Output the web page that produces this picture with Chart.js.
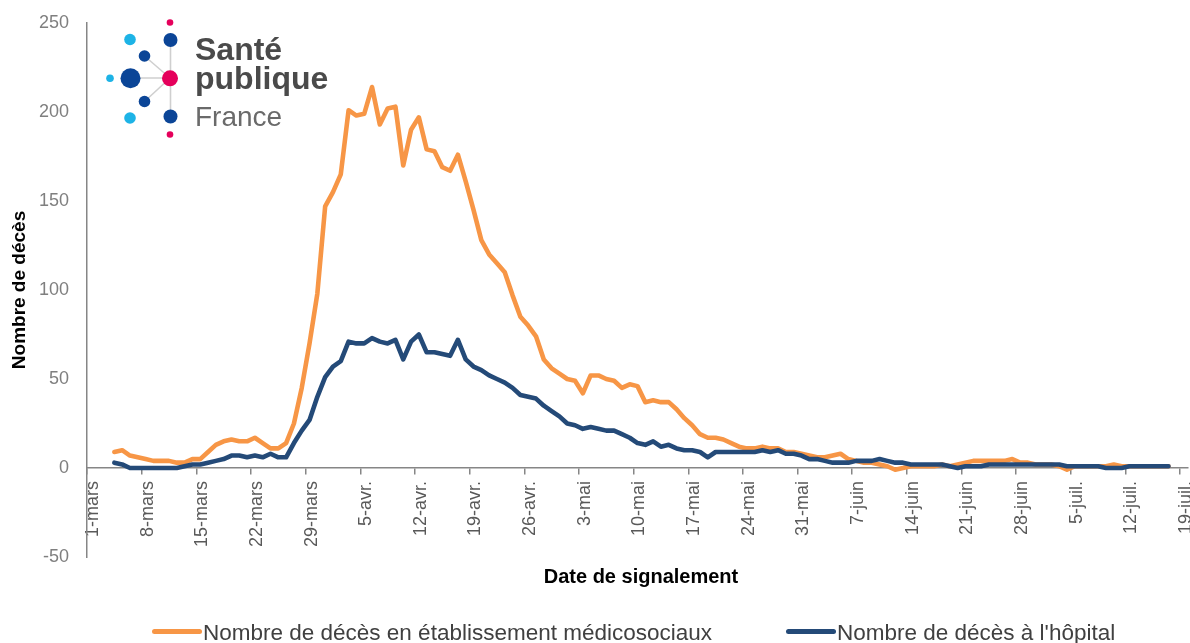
<!DOCTYPE html>
<html><head><meta charset="utf-8">
<script src="https://cdn.jsdelivr.net/npm/chart.js@4.4.1/dist/chart.umd.min.js"></script>
<style>
html,body{margin:0;padding:0;background:#fff;}
#wrap{position:relative;width:1190px;height:643px;overflow:hidden;background:#fff;}
#c{position:absolute;left:0;top:0;}
#logo{position:absolute;left:0;top:0;}
#xtitle{position:absolute;left:441px;width:400px;top:564px;height:24px;line-height:24px;text-align:center;font-family:'Liberation Sans',Arial,sans-serif;font-weight:bold;font-size:20px;color:#000;}
.lg{position:absolute;top:620px;height:26px;line-height:26px;font-family:'Liberation Sans',Arial,sans-serif;font-size:22.5px;color:#404040;white-space:nowrap;}
.lg i{position:absolute;left:0;top:9px;width:50px;height:5px;border-radius:2.5px;}
.lg span{position:absolute;left:51px;top:0;}
</style></head>
<body>
<div id="wrap">
<canvas id="c" width="1190" height="643"></canvas>
<svg id="logo" width="360" height="150" viewBox="0 0 360 150">
  <g stroke="#cfcfcf" stroke-width="1.6">
    <line x1="170.5" y1="40" x2="170.5" y2="117"/>
    <line x1="170" y1="78" x2="131" y2="78"/>
    <line x1="170" y1="78" x2="144.5" y2="56"/>
    <line x1="170" y1="78" x2="144.5" y2="101.5"/>
  </g>
  <circle cx="170" cy="22.5" r="3.3" fill="#e5005b"/>
  <circle cx="170.5" cy="40" r="7" fill="#0b4597"/>
  <circle cx="130" cy="39.5" r="5.8" fill="#1db3e6"/>
  <circle cx="144.5" cy="56" r="5.8" fill="#0b4597"/>
  <circle cx="110" cy="78.3" r="3.8" fill="#1db3e6"/>
  <circle cx="130.5" cy="78.3" r="10" fill="#0b4597"/>
  <circle cx="170" cy="78.3" r="8" fill="#e5005b"/>
  <circle cx="144.5" cy="101.5" r="5.8" fill="#0b4597"/>
  <circle cx="130" cy="118" r="5.8" fill="#1db3e6"/>
  <circle cx="170.5" cy="116.5" r="7" fill="#0b4597"/>
  <circle cx="170" cy="134.5" r="3.3" fill="#e5005b"/>
  <text x="195" y="59.5" font-family="'Liberation Sans',Arial,sans-serif" font-weight="bold" font-size="32" fill="#4a4a4a">Santé</text>
  <text x="195" y="88.5" font-family="'Liberation Sans',Arial,sans-serif" font-weight="bold" font-size="32" fill="#4a4a4a">publique</text>
  <text x="195" y="125.5" font-family="'Liberation Sans',Arial,sans-serif" font-size="28" fill="#6a6a6a">France</text>
</svg>
<div id="xtitle"></div>
<div id="legend"></div>
</div>
<script>
// Categories: every day from 1 March to 19 July (2020)
const months = [['mars', 31], ['avr.', 30], ['mai', 31], ['juin', 30], ['juil.', 19]];
const days = [];
months.forEach(([name, n]) => { for (let d = 1; d <= n; d++) days.push(d + '-' + name); });

// Nombre de décès en établissement médicosociaux (1-mars .. 19-juil.)
const ehpad = [
  null, null, null,
  9, 10, 7, 6, 5, 4, 4, 4, 3, 3,
  5, 5, 9, 13, 15, 16, 15, 15, 17, 14,
  11, 11, 14, 25, 45, 70, 98, 147, 155, 165,
  201, 198, 199, 214, 193, 202, 203, 170, 190, 197,
  179, 178, 169, 167, 176, 161, 145, 128, 120, 115,
  110, 97, 85, 80, 74, 61, 56, 53, 50, 49,
  42, 52, 52, 50, 49, 45, 47, 46, 37, 38,
  37, 37, 33, 28, 24, 19, 17, 17, 16, 14,
  12, 11, 11, 12, 11, 11, 9, 9, 8, 7,
  6, 6, 7, 8, 5, 4, 3, 3, 2, 1,
  -1, 0, 1, 1, 1, 1, 2, 1, 2, 3,
  4, 4, 4, 4, 4, 5, 3, 3, 2, 2,
  2, 1, -1, 1, 1, 1, 1, 1, 2, 1,
  1, 1, 1, 1, 1, 1,
  null, null
];

// Nombre de décès à l'hôpital (1-mars .. 19-juil.)
const hopital = [
  null, null, null,
  3, 2, 0, 0, 0, 0, 0, 0, 0, 1,
  2, 2, 3, 4, 5, 7, 7, 6, 7, 6,
  8, 6, 6, 14, 21, 27, 40, 51, 57, 60,
  71, 70, 70, 73, 71, 70, 72, 61, 71, 75,
  65, 65, 64, 63, 72, 61, 57, 55, 52, 50,
  48, 45, 41, 40, 39, 35, 32, 29, 25, 24,
  22, 23, 22, 21, 21, 19, 17, 14, 13, 15,
  12, 13, 11, 10, 10, 9, 6, 9, 9, 9,
  9, 9, 9, 10, 9, 10, 8, 8, 7, 5,
  5, 4, 3, 3, 3, 4, 4, 4, 5, 4,
  3, 3, 2, 2, 2, 2, 2, 1, 0, 1,
  1, 1, 2, 2, 2, 2, 2, 2, 2, 2,
  2, 2, 1, 1, 1, 1, 1, 0, 0, 0,
  1, 1, 1, 1, 1, 1,
  null, null
];

const seriesNames = ['Nombre de décès en établissement médicosociaux', "Nombre de décès à l'hôpital"];
const seriesColors = ['#F79646', '#244A78'];
const xTitle = 'Date de signalement';
const yTitle = 'Nombre de décès';
const yTicks = { min: -50, max: 250, step: 50 };
const tickEvery = 7;

const FONT = "'Liberation Sans', Arial, sans-serif";
Chart.defaults.font.family = FONT;

const chart = new Chart(document.getElementById('c'), {
  type: 'line',
  data: {
    labels: days,
    datasets: [
      { label: seriesNames[0], data: ehpad, borderColor: seriesColors[0], backgroundColor: seriesColors[0],
        borderWidth: 4.6, pointRadius: 0, tension: 0, borderJoinStyle: 'round', borderCapStyle: 'round', order: 2 },
      { label: seriesNames[1], data: hopital, borderColor: seriesColors[1], backgroundColor: seriesColors[1],
        borderWidth: 4.6, pointRadius: 0, tension: 0, borderJoinStyle: 'round', borderCapStyle: 'round', order: 1 }
    ]
  },
  options: {
    responsive: false,
    animation: false,
    layout: { padding: { top: 23, right: 2, bottom: 86, left: 0 } },
    plugins: {
      legend: { display: false },
      tooltip: { enabled: false },
      title: { display: false }
    },
    scales: {
      x: {
        type: 'category',
        offset: true,
        position: { y: 0 },
        afterFit: (s) => { s.paddingLeft = 0; s.paddingRight = 0; s.paddingTop = 0; s.paddingBottom = 0; },
        grid: {
          offset: true, drawOnChartArea: false, drawTicks: true, tickLength: 6, lineWidth: 1.5,
          color: (c) => (c.type === 'tick' && c.index % tickEvery === 0) ? '#868686' : 'rgba(0,0,0,0)'
        },
        border: { display: true, color: '#868686', width: 1.5 },
        ticks: {
          autoSkip: false, minRotation: 90, maxRotation: 90, padding: 7, labelOffset: 2,
          color: '#595959', font: { family: FONT, size: 18 },
          callback: (v, i) => (i % tickEvery === 0 ? days[i] : '')
        }
      },
      y: {
        min: yTicks.min, max: yTicks.max,
        afterFit: (s) => { s.width = 87; s.paddingTop = 0; s.paddingBottom = 0; },
        grid: { drawOnChartArea: false, drawTicks: false },
        border: { display: true, color: '#868686', width: 1.5 },
        ticks: { stepSize: yTicks.step, padding: 18, color: '#7F7F7F', font: { family: FONT, size: 18 } },
        title: { display: true, text: yTitle, color: '#000',
          font: { family: FONT, size: 19, weight: 'bold' }, padding: { top: 8, bottom: 0 } }
      }
    }
  }
});

document.getElementById('xtitle').textContent = xTitle;

// HTML legend built from the chart's datasets
const legendLeft = [152, 786];
const lg = document.getElementById('legend');
chart.data.datasets.forEach((ds, i) => {
  const d = document.createElement('div');
  d.className = 'lg';
  d.style.left = legendLeft[i] + 'px';
  const sw = document.createElement('i');
  sw.style.background = ds.borderColor;
  const t = document.createElement('span');
  t.textContent = ds.label;
  d.appendChild(sw); d.appendChild(t);
  lg.appendChild(d);
});
</script>
</body></html>
